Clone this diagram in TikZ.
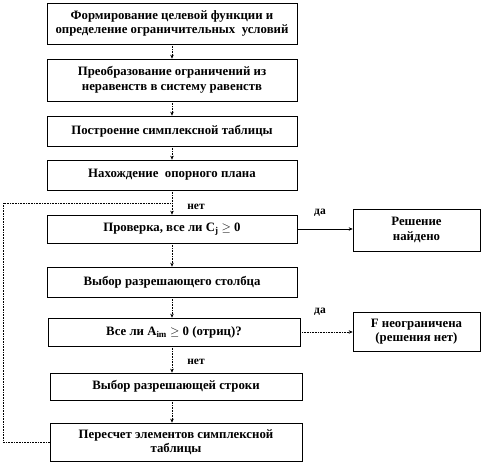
\documentclass[tikz,border=0pt]{standalone}
\usepackage{fontspec}
\setmainfont{Liberation Serif}
\usetikzlibrary{arrows.meta,positioning}
\begin{document}
\begin{tikzpicture}[x=1pt,y=-1pt,
  box/.style={draw=black,line width=0.6pt,align=center,inner sep=1pt,font=\bfseries\fontsize{12.8}{14.5}\selectfont},
  lbl/.style={font=\bfseries\fontsize{11.5}{12}\selectfont,inner sep=0pt},
  flow/.style={densely dotted,line width=0.6pt,-{Stealth[length=4pt,width=3.5pt]}},
  flowsolid/.style={line width=0.7pt,-{Stealth[length=4pt,width=3.5pt]}},
  loop/.style={densely dotted,line width=0.6pt}]
\useasboundingbox (0,0) rectangle (483,465);
\node[box,minimum width=250pt,minimum height=41pt] (b1) at (172,23.5) {Формирование целевой функции и\\определение ограничительных\ \ условий};
\node[box,minimum width=250pt,minimum height=42pt] (b2) at (172,80) {Преобразование ограничений из\\неравенств в систему равенств};
\node[box,minimum width=250pt,minimum height=30pt] (b3) at (172,131) {Построение симплексной таблицы};
\node[box,minimum width=250pt,minimum height=30pt] (b4) at (172,175) {Нахождение\ \ опорного плана};
\node[box,minimum width=250pt,minimum height=28pt] (b5) at (172,229) {Проверка, все ли C$_{\mathbf{j}}$ $\geq$\ 0};
\node[box,minimum width=127pt,minimum height=42pt] (r1) at (416.5,230) {Решение\\найдено};
\node[box,minimum width=250pt,minimum height=30pt] (b6) at (172,282) {Выбор разрешающего столбца};
\node[box,minimum width=252pt,minimum height=28pt] (b7) at (174,332) {Все ли A$_{\mathbf{im}}$ $\geq$ 0 (отриц)?};
\node[box,minimum width=127pt,minimum height=39pt] (r2) at (416.5,331.5) {F неограничена\\(решения нет)};
\node[box,minimum width=252pt,minimum height=27pt] (b8) at (176,386.5) {Выбор разрешающей строки};
\node[box,minimum width=252pt,minimum height=38pt] (b9) at (176,442) {Пересчет элементов симплексной\\таблицы};

\draw[flow] (b1.south) -- (b2.north);
\draw[flow] (b2.south) -- (b3.north);
\draw[flow] (b3.south) -- (b4.north);
\draw[flow] (b4.south) -- (b5.north);
\draw[flow] (b5.south) -- (b6.north);
\draw[flow] (b6.south) -- (b7.north -| b6.south);
\draw[flow] (b7.south -| b6.south) -- (b8.north -| b6.south);
\draw[flow] (b8.south -| b6.south) -- (b9.north -| b6.south);
\draw[flowsolid] (b5.east) -- (r1.west |- b5.east);
\draw[flow] (b7.east) -- (r2.west |- b7.east);
\coordinate (j) at (172,203);
\draw[loop] (b9.west) -| (3,203) -- (j);

\node[lbl] (n1) at (196,207) {нет};
\node[lbl] (d1) at (320,213) {да};
\node[lbl] (d2) at (320,312) {да};
\node[lbl] (n2) at (196,362) {нет};
\end{tikzpicture}
\end{document}
